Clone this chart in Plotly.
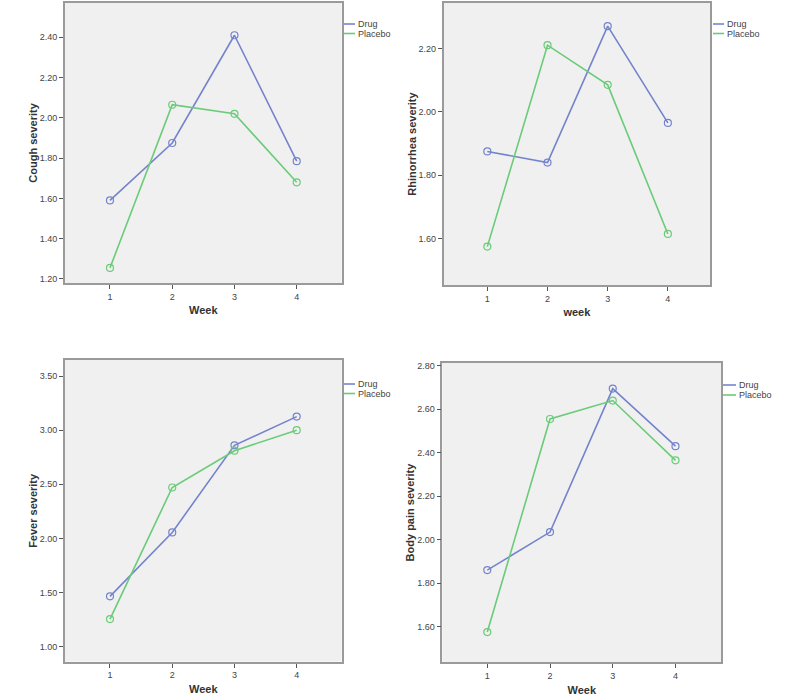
import plotly.graph_objects as go

weeks = [1, 2, 3, 4]
series_names = ["Drug", "Placebo"]

cough_drug = [1.59, 1.875, 2.41, 1.785]
cough_placebo = [1.255, 2.065, 2.02, 1.68]
rhin_drug = [1.875, 1.84, 2.27, 1.965]
rhin_placebo = [1.575, 2.21, 2.085, 1.615]
fever_drug = [1.465, 2.055, 2.86, 3.125]
fever_placebo = [1.255, 2.47, 2.81, 3.0]
body_drug = [1.86, 2.035, 2.695, 2.43]
body_placebo = [1.575, 2.555, 2.64, 2.365]

y_titles = ["Cough severity", "Rhinorrhea severity", "Fever severity", "Body pain severity"]
x_titles = ["Week", "week", "Week", "Week"]
y_ticks = [
    [1.2, 1.4, 1.6, 1.8, 2.0, 2.2, 2.4],
    [1.6, 1.8, 2.0, 2.2],
    [1.0, 1.5, 2.0, 2.5, 3.0, 3.5],
    [1.6, 1.8, 2.0, 2.2, 2.4, 2.6, 2.8],
]

W, H = 786, 697
DRUG = "#7484cc"
PLAC = "#6acb78"
FONT = "Liberation Sans, Arial, sans-serif"

panels = [
    dict(data=(cough_drug, cough_placebo), px=(65, 341.5), py=(3, 283), xr=(0.277, 4.72), yr=(1.18, 2.57), leg=(344, 24, 11, 9, 9.5)),
    dict(data=(rhin_drug, rhin_placebo), px=(443.7, 710), py=(3, 285), xr=(0.275, 4.70), yr=(1.454, 2.343), leg=(713, 24, 11, 9, 9.5)),
    dict(data=(fever_drug, fever_placebo), px=(65, 341.5), py=(360, 661.7), xr=(0.277, 4.72), yr=(0.861, 3.648), leg=(344, 384, 11, 9, 9.5)),
    dict(data=(body_drug, body_placebo), px=(442.3, 721.3), py=(362.7, 662.3), xr=(0.283, 4.73), yr=(1.436, 2.814), leg=(723, 385, 13, 9, 10)),
]

fig = go.Figure()
layout = {}
shapes = []
annotations = []
for i, p in enumerate(panels):
    n = "" if i == 0 else str(i + 1)
    xa, ya = "x" + n, "y" + n
    for vals, name, col in zip(p["data"], series_names, [DRUG, PLAC]):
        fig.add_trace(go.Scatter(
            x=weeks, y=vals, mode="lines+markers", name=name,
            line=dict(color=col, width=1.6),
            marker=dict(symbol="circle-open", size=7, color=col, line=dict(width=1.2)),
            xaxis=xa, yaxis=ya, showlegend=False, hoverinfo="skip"))
    x0, x1 = p["px"]
    y0, y1 = p["py"]
    common = dict(showline=True, mirror=True, linecolor="#9a9a9a", linewidth=1.6,
                  showgrid=False, zeroline=False, ticks="outside", ticklen=4,
                  tickcolor="#555", tickwidth=1, automargin=False,
                  tickfont=dict(family=FONT, size=9, color="#444"))
    layout["xaxis" + n] = dict(common, domain=[x0 / W, x1 / W], range=list(p["xr"]),
                               anchor=ya, tickvals=weeks, ticktext=[str(w) for w in weeks],
                               title=dict(text="<b>" + x_titles[i] + "</b>", standoff=6,
                                          font=dict(family=FONT, size=11, color="#333")))
    layout["yaxis" + n] = dict(common, domain=[1 - y1 / H, 1 - y0 / H], range=list(p["yr"]),
                               anchor=xa, tickvals=y_ticks[i],
                               ticktext=["%.2f" % v for v in y_ticks[i]],
                               title=dict(text="<b>" + y_titles[i] + "</b>", standoff=0,
                                          font=dict(family=FONT, size=11, color="#333")))
    # legend keys (line swatch + label), one per series
    lx, ly, llen, fs, gap = p["leg"]
    for k, (name, col) in enumerate(zip(series_names, [DRUG, PLAC])):
        yy = ly + k * gap
        shapes.append(dict(type="line", xref="paper", yref="paper",
                           x0=lx / W, x1=(lx + llen) / W, y0=1 - yy / H, y1=1 - yy / H,
                           line=dict(color=col, width=1.6)))
        annotations.append(dict(xref="paper", yref="paper", x=(lx + llen + 1) / W, y=1 - yy / H,
                                text=name, showarrow=False, xanchor="left", yanchor="middle",
                                font=dict(family=FONT, size=fs, color="#444")))

fig.update_layout(width=W, height=H, margin=dict(l=0, r=0, t=0, b=0),
                  paper_bgcolor="white", plot_bgcolor="#f0f0f0",
                  shapes=shapes, annotations=annotations, **layout)

fig.write_html("out.html", config={"displayModeBar": False},
               post_script="document.body.style.margin='0px';document.body.style.overflow='hidden';")
